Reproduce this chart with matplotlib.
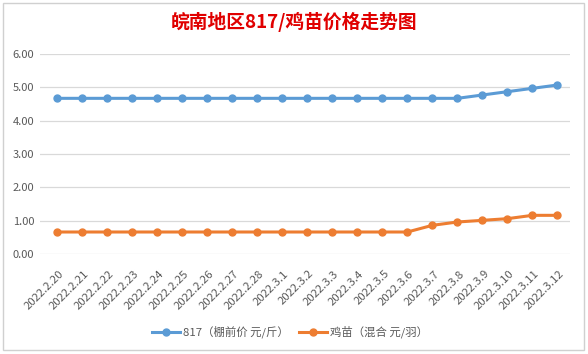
import matplotlib.pyplot as plt
import matplotlib.patches as mpatches
import matplotlib.transforms as mtrans

plt.rcParams['font.family'] = ['Noto Sans CJK SC', 'DejaVu Sans']

# dates on the x axis
dates = ["2022.2.20", "2022.2.21", "2022.2.22", "2022.2.23", "2022.2.24", "2022.2.25",
         "2022.2.26", "2022.2.27", "2022.2.28", "2022.3.1", "2022.3.2", "2022.3.3",
         "2022.3.4", "2022.3.5", "2022.3.6", "2022.3.7", "2022.3.8", "2022.3.9",
         "2022.3.10", "2022.3.11", "2022.3.12"]
# 817 price (yuan / jin) and chick price (yuan / bird)
price_817 = [4.67] * 17 + [4.77, 4.87, 4.97, 5.07]
price_chick = [0.66] * 15 + [0.86, 0.96, 1.01, 1.06, 1.16, 1.16]

label_817 = "817（棚前价 元/斤）"
label_chick = "鸡苗（混合 元/羽）"
title = "皖南地区817/鸡苗价格走势图"

W, H = 588, 354
fig = plt.figure(figsize=(W / 100, H / 100), dpi=100)

# chart area border (excel-like)
fig.patches.append(mpatches.Rectangle((3 / W, 1 - 350 / H), 581 / W, 347 / H,
                                      transform=fig.transFigure, fill=False,
                                      edgecolor="#d0d0d0", linewidth=1))

ax = fig.add_axes([40 / W, 1 - 254 / H, 530 / W, 200 / H])
x = list(range(len(dates)))
ax.plot(x, price_817, color="#5b9bd5", linewidth=2.2, marker="o", markersize=5, label=label_817)
ax.plot(x, price_chick, color="#ed7d31", linewidth=2.2, marker="o", markersize=5, label=label_chick)

ax.set_xlim(-0.68, len(dates) - 0.5)
ax.set_ylim(0, 6)
ax.set_yticks([0, 1, 2, 3, 4, 5, 6])
ax.set_yticklabels([f"{v:.2f}" for v in range(7)], color="#595959", fontsize=8)
ax.grid(axis="y", color="#d9d9d9", linewidth=0.9)
ax.set_axisbelow(True)
for s in ax.spines.values():
    s.set_visible(False)
ax.tick_params(axis="both", length=0, pad=4)
ax.set_xticks(x)
ax.set_xticklabels(dates, rotation=45, ha="right", va="center", rotation_mode="anchor",
                   color="#595959", fontsize=8.2)
ax.tick_params(axis="x", pad=13)
# nudge the rotated labels a bit to the right, like excel does
shift = mtrans.ScaledTranslation(5 / 100, 0, fig.dpi_scale_trans)
for lbl in ax.get_xticklabels():
    lbl.set_transform(lbl.get_transform() + shift)

fig.text(294 / W, 1 - 22 / H, title, ha="center", va="center", color="#e00000",
         fontsize=13.5, fontweight="bold")

fig.legend(loc="center", bbox_to_anchor=(290 / W, 1 - 332 / H), ncol=2, frameon=False,
           fontsize=8.2, handlelength=2.45, columnspacing=0.9, handletextpad=0.27,
           labelcolor="#595959")

fig.savefig("out.png", dpi=100)
